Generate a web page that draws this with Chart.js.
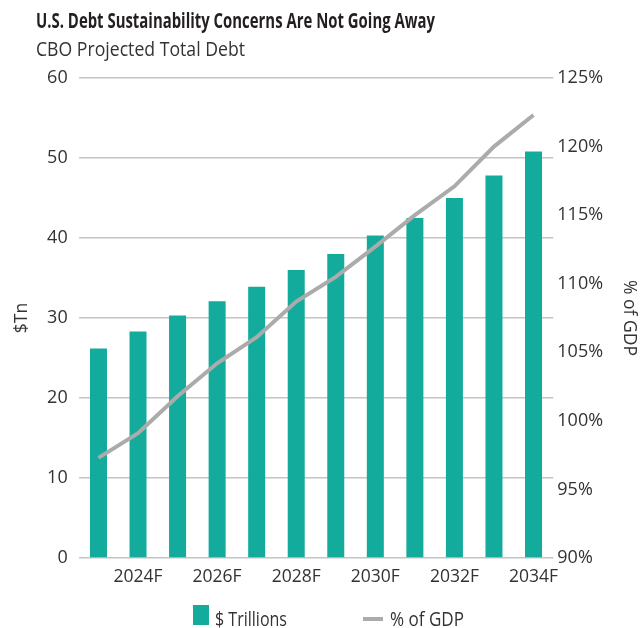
<!DOCTYPE html>
<html>
<head>
<meta charset="utf-8">
<script src="https://cdn.jsdelivr.net/npm/chart.js@4"></script>
<style>
  html, body { margin: 0; padding: 0; background: #ffffff; }
  #wrap { position: relative; width: 642px; height: 628px; }
  canvas { display: block; }
</style>
</head>
<body>
<div id="wrap"><canvas id="c" width="642" height="628"></canvas></div>
<script>
const categories = ['2023F','2024F','2025F','2026F','2027F','2028F','2029F','2030F','2031F','2032F','2033F','2034F'];
const debtTrillions = [26.2, 28.3, 30.3, 32.1, 33.9, 36.0, 38.0, 40.3, 42.5, 45.0, 47.8, 50.8];
const debtPctGDP = [97.3, 99.1, 101.8, 104.2, 106.1, 108.7, 110.5, 112.7, 115.0, 117.1, 120.0, 122.3];
const leftTicks = [0, 10, 20, 30, 40, 50, 60];
const rightTicks = [90, 95, 100, 105, 110, 115, 120, 125];
const titleText = 'U.S. Debt Sustainability Concerns Are Not Going Away';
const subtitleText = 'CBO Projected Total Debt';
const seriesNames = ['$ Trillions', '% of GDP'];
const axisTitles = ['$Tn', '% of GDP'];

const FONT = "'Open Sans', 'Noto Sans', sans-serif";
const TEAL = '#12ab9c';
const GRAY_LINE = '#ababab';
const TEXT = '#333333';

function fitText(ctx, text, x, y, targetWidth) {
  const w = ctx.measureText(text).width;
  const s = targetWidth / w;
  ctx.save();
  ctx.translate(x, y);
  ctx.scale(s, 1);
  ctx.fillText(text, 0, 0);
  ctx.restore();
}

const textPlugin = {
  id: 'textPlugin',
  afterDraw(chart) {
    const ctx = chart.ctx;
    const barDs = chart.data.datasets.find(d => d.type === 'bar');
    const lineDs = chart.data.datasets.find(d => d.type === 'line');
    ctx.save();
    ctx.textAlign = 'left';
    ctx.textBaseline = 'alphabetic';
    ctx.fillStyle = '#231f20';
    ctx.font = "bold 20.5px " + FONT;
    fitText(ctx, titleText, 36, 28, 399);
    ctx.fillStyle = TEXT;
    ctx.font = "19.5px " + FONT;
    fitText(ctx, subtitleText, 36, 56, 209);
    // legend
    ctx.fillStyle = barDs.backgroundColor;
    ctx.fillRect(193, 605, 16, 20);
    ctx.strokeStyle = lineDs.borderColor;
    ctx.lineWidth = 4;
    ctx.beginPath();
    ctx.moveTo(363, 619);
    ctx.lineTo(383, 619);
    ctx.stroke();
    ctx.fillStyle = TEXT;
    ctx.font = "20px " + FONT;
    fitText(ctx, barDs.label, 215, 626, 72);
    fitText(ctx, lineDs.label, 390, 626, 74);
    ctx.restore();
  }
};

new Chart(document.getElementById('c'), {
  data: {
    labels: categories,
    datasets: [
      {
        type: 'line',
        label: seriesNames[1],
        data: debtPctGDP,
        yAxisID: 'y1',
        borderColor: GRAY_LINE,
        backgroundColor: GRAY_LINE,
        borderWidth: 4,
        pointRadius: 0,
        tension: 0,
        order: 0
      },
      {
        type: 'bar',
        label: seriesNames[0],
        data: debtTrillions,
        yAxisID: 'y',
        backgroundColor: TEAL,
        borderWidth: 0,
        barPercentage: 0.43,
        categoryPercentage: 1.0,
        order: 1
      }
    ]
  },
  options: {
    responsive: false,
    animation: false,
    devicePixelRatio: 1,
    layout: { padding: { top: 78, bottom: 30, left: 0, right: 0 } },
    plugins: {
      legend: { display: false },
      title: { display: false },
      tooltip: { enabled: false }
    },
    scales: {
      x: {
        grid: { display: false, drawTicks: false },
        border: { display: false },
        ticks: {
          autoSkip: false,
          maxRotation: 0,
          padding: 9,
          color: TEXT,
          font: { family: FONT, size: 17.5 },
          callback: function(value, index) { return index % 2 === 1 ? categories[index] : ''; }
        },
        afterFit(scale) { scale.height = 40; }
      },
      y: {
        position: 'left',
        min: 0,
        max: 60,
        afterBuildTicks(scale) { scale.ticks = leftTicks.map(v => ({ value: v })); },
        grid: { color: '#c4c4c4', lineWidth: 1.5, drawTicks: false },
        border: { display: false },
        ticks: {
          padding: 11,
          color: TEXT,
          font: { family: FONT, size: 18 }
        },
        title: {
          display: true,
          text: axisTitles[0],
          color: TEXT,
          font: { family: FONT, size: 17.5 },
          padding: { top: 12, bottom: 0 }
        },
        afterFit(scale) { scale.width = 78.7; }
      },
      y1: {
        position: 'right',
        min: 90,
        max: 125,
        afterBuildTicks(scale) { scale.ticks = rightTicks.map(v => ({ value: v })); },
        grid: { display: false, drawTicks: false },
        border: { display: false },
        ticks: {
          padding: 4,
          color: TEXT,
          font: { family: FONT, size: 18 },
          callback: v => v + '%'
        },
        title: {
          display: true,
          text: axisTitles[1],
          color: TEXT,
          font: { family: FONT, size: 17.5 },
          padding: { top: 3, bottom: 0 }
        },
        afterFit(scale) { scale.width = 88.7; }
      }
    }
  },
  plugins: [textPlugin]
});
</script>
</body>
</html>
